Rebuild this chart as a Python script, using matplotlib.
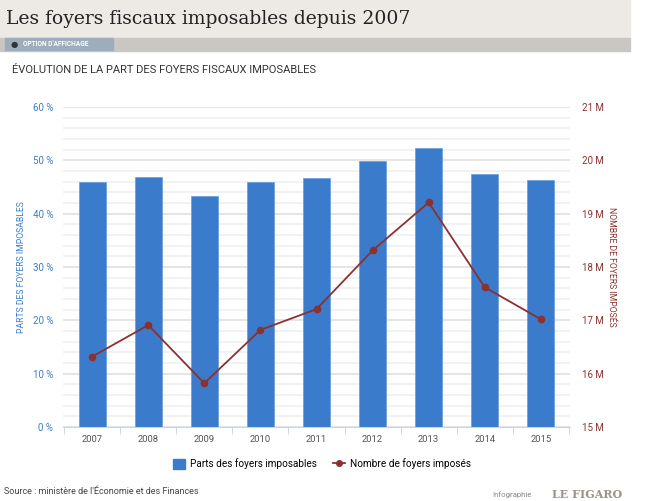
import numpy as np
import matplotlib.pyplot as plt
from matplotlib.patches import Rectangle
from matplotlib.lines import Line2D
from matplotlib.ticker import MultipleLocator, FixedLocator, FuncFormatter

# données
annees = ["2007", "2008", "2009", "2010", "2011", "2012", "2013", "2014", "2015"]
parts = [46.0, 46.8, 43.3, 45.9, 46.6, 49.8, 52.3, 47.4, 46.4]  # %
foyers = [16.32, 16.91, 15.82, 16.82, 17.21, 18.31, 19.21, 17.62, 17.02]  # millions

bleu = "#3b7bcb"
rouge = "#8a3131"
sans = ["Roboto", "DejaVu Sans"]

fig = plt.figure(figsize=(6.45, 5.01), dpi=100)
W, H = 645, 501

# bandeau du haut
fig.patches.append(Rectangle((0, 1 - 38 / H), 630 / W, 38 / H, transform=fig.transFigure,
                             color="#edeae5", zorder=0))
fig.patches.append(Rectangle((0, 1 - 51 / H), 630 / W, 13 / H, transform=fig.transFigure,
                             color="#c9c7c3", zorder=0))
fig.patches.append(Rectangle((5 / W, 1 - 50 / H), 108 / W, 12 / H, transform=fig.transFigure,
                             color="#9eadbb", zorder=1))
fig.text(6 / W, 1 - 19 / H, "Les foyers fiscaux imposables depuis 2007", fontsize=13.5,
         family="DejaVu Serif", color="#222222", va="center")
fig.text(14 / W, 1 - 44 / H, "\u25cf", fontsize=6, color="#333333", va="center", ha="center")
fig.text(23 / W, 1 - 44 / H, "OPTION D'AFFICHAGE", fontsize=4.8, color="white",
         va="center", family=sans, weight="bold")
fig.text(12 / W, 1 - 70 / H, "ÉVOLUTION DE LA PART DES FOYERS FISCAUX IMPOSABLES",
         fontsize=8, color="#333333", va="center", family=sans)

# graphique
ax = fig.add_axes([63 / W, 1 - 427 / H, 507 / W, 320 / H])
x = np.arange(len(annees))
ax.bar(x, parts, width=0.48, color=bleu, edgecolor="#6a9cdc", linewidth=0.5, zorder=2)
ax.set_xlim(-0.52, len(annees) - 0.48)
ax.set_ylim(0, 60)
ax.yaxis.set_major_locator(MultipleLocator(10))
ax.yaxis.set_minor_locator(MultipleLocator(2))
ax.yaxis.set_major_formatter(FuncFormatter(lambda v, p: f"{v:.0f} %"))
ax.grid(axis="y", which="major", color="#e3e3e3", linewidth=1.3, zorder=0)
ax.grid(axis="y", which="minor", color="#f0f0f0", linewidth=1.2, zorder=0)
ax.set_axisbelow(True)
for s in ["top", "right", "left"]:
    ax.spines[s].set_visible(False)
ax.spines["bottom"].set_color("#c5d5ea")
ax.set_xticks(x)
ax.set_xticklabels(annees)
ax.xaxis.set_minor_locator(FixedLocator(np.arange(-0.5, len(annees), 1)))
ax.tick_params(axis="x", which="major", length=0, labelsize=6.8, labelcolor="#555555", pad=6)
ax.tick_params(axis="x", which="minor", length=5, color="#c5d5ea")
ax.tick_params(axis="y", which="both", length=0, labelsize=7, labelcolor=bleu, pad=7)
for t in ax.get_xticklabels() + ax.get_yticklabels():
    t.set_family(sans)
ax.set_ylabel("PARTS DES FOYERS IMPOSABLES", color=bleu, fontsize=6.2, family=sans, labelpad=5)

ax2 = ax.twinx()
ax2.plot(x, foyers, color=rouge, linewidth=1.3, marker="o", markersize=4.5, zorder=3)
ax2.set_ylim(15, 21)
ax2.yaxis.set_major_locator(MultipleLocator(1))
ax2.yaxis.set_major_formatter(FuncFormatter(lambda v, p: f"{v:.0f} M"))
for s in ["top", "right", "left", "bottom"]:
    ax2.spines[s].set_visible(False)
ax2.tick_params(axis="y", length=0, labelsize=7, labelcolor=rouge, pad=8.5)
for t in ax2.get_yticklabels():
    t.set_family(sans)
ax2.set_ylabel("NOMBRE DE FOYERS IMPOSÉS", color=rouge, fontsize=6.2, family=sans,
               rotation=270, labelpad=9)

# légende
poignees = [Rectangle((0, 0), 1, 1, color=bleu),
            Line2D([], [], color=rouge, marker="o", markersize=4, linewidth=1.3)]
leg = fig.legend(poignees, ["Parts des foyers imposables", "Nombre de foyers imposés"],
                 loc="center", bbox_to_anchor=(322 / W, 1 - 464 / H), ncol=2, frameon=False,
                 prop={"family": sans, "size": 7.2}, handlelength=1.2, handleheight=1.2,
                 columnspacing=1.6, handletextpad=0.5)

fig.text(4 / W, 1 - 491 / H, "Source : ministère de l'Économie et des Finances", fontsize=6.5,
         color="#444444", va="center", family=sans)
fig.text(532 / W, 1 - 495 / H, "Infographie", fontsize=5.6, color="#888888", va="center",
         ha="right", family=sans)
fig.text(622 / W, 1 - 495 / H, "LE FIGARO", fontsize=8, color="#9a9686", va="center",
         ha="right", family="DejaVu Serif", weight="bold")

fig.savefig("out.png", dpi=100)
